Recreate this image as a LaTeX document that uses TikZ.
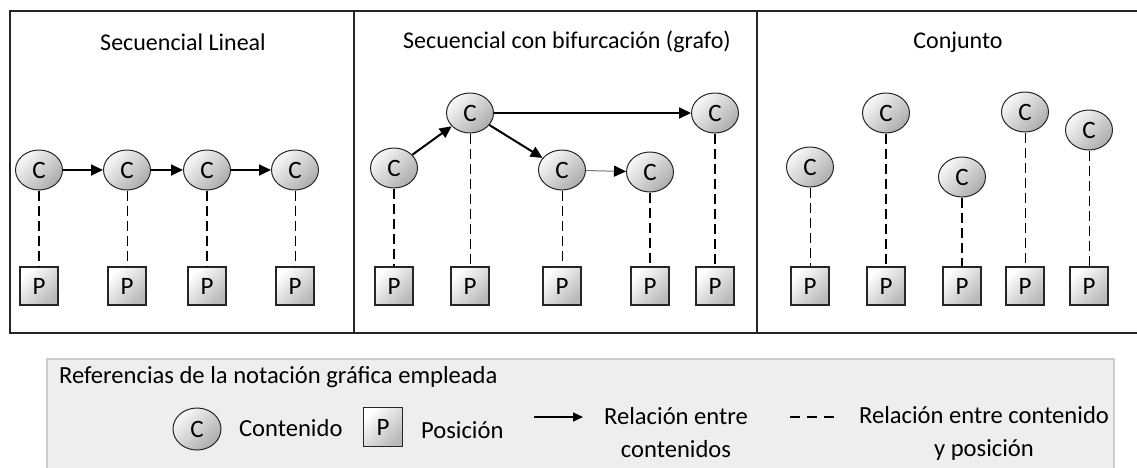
\documentclass[tikz,border=0pt]{standalone}
\usepackage{fontspec}
\setmainfont{Carlito}
\usepackage{tikz}
\usetikzlibrary{arrows,arrows.meta,shapes,shapes.geometric,positioning}

\begin{document}
\begin{tikzpicture}[x=0.5pt,y=-0.5pt,
	contnode/.style={ellipse,draw=black!85,line width=0.5pt,inner sep=0pt,
		minimum width=23.5pt,minimum height=20pt,
		top color=gray!5,bottom color=gray!65,shading angle=45,font=\fontsize{12.5}{14}\selectfont},
	posnode/.style={rectangle,draw=black!85,line width=0.6pt,inner sep=0pt,minimum size=19pt,
		top color=white,bottom color=gray!55,shading angle=45,font=\fontsize{12.5}{14}\selectfont},
	relarrow/.style={line width=1pt,-{Triangle[length=6pt,width=5.5pt,color=black]}},
	linkthick/.style={line width=1pt,dash pattern=on 5pt off 2.5pt},
	linkthin/.style={line width=0.5pt,dash pattern=on 5pt off 2.5pt},
	titletext/.style={font=\fontsize{12}{14}\selectfont},
	reftext/.style={font=\fontsize{12.3}{16.5}\selectfont}]

	\useasboundingbox (0,0) rectangle (1137,467);

	% frame with the three panels
	\draw[line width=1pt,draw=black!85] (10,11) rectangle (1150,333);
	\draw[line width=1pt,draw=black!85] (354,11) -- (354,333);
	\draw[line width=1pt,draw=black!85] (757,11) -- (757,333);

	\node[titletext](lintitle) at (183,42) {Secuencial Lineal};
	\node[titletext](biftitle) at (567,42) {Secuencial con bifurcación (grafo)};
	\node[titletext](conjtitle) at (958,42) {Conjunto};

	% secuencial lineal
	\node[contnode](lincont1) at (39,170) {C};
	\node[contnode](lincont2) at (127,170) {C};
	\node[contnode](lincont3) at (207,170) {C};
	\node[contnode](lincont4) at (295,170) {C};
	\node[posnode](linpos1) at (39,286) {P};
	\node[posnode](linpos2) at (127,286) {P};
	\node[posnode](linpos3) at (207,286) {P};
	\node[posnode](linpos4) at (295,286) {P};

	\draw[relarrow] (lincont1) -- (lincont2);
	\draw[relarrow] (lincont2) -- (lincont3);
	\draw[relarrow] (lincont3) -- (lincont4);

	\draw[linkthick] (lincont1) -- (linpos1);
	\draw[linkthin] (lincont2) -- (linpos2);
	\draw[linkthick] (lincont3) -- (linpos3);
	\draw[linkthin] (lincont4) -- (linpos4);

	% secuencial con bifurcacion
	\node[contnode](bifcont1) at (394,168) {C};
	\node[contnode](bifcont2) at (470,113) {C};
	\node[contnode](bifcont3) at (715,113) {C};
	\node[contnode](bifcont4) at (562,170) {C};
	\node[contnode](bifcont5) at (650,172) {C};
	\node[posnode](bifpos1) at (394,286) {P};
	\node[posnode](bifpos2) at (470,286) {P};
	\node[posnode](bifpos3) at (715,286) {P};
	\node[posnode](bifpos4) at (562,286) {P};
	\node[posnode](bifpos5) at (650,286) {P};

	\draw[relarrow] (bifcont1) -- (bifcont2);
	\draw[relarrow] (bifcont2) -- (bifcont4);
	\draw[relarrow] (bifcont2) -- (bifcont3);
	\draw[relarrow,line width=0.5pt,draw=black!55] (bifcont4) -- (bifcont5);

	\draw[linkthick] (bifcont1) -- (bifpos1);
	\draw[linkthin] (bifcont2) -- (bifpos2);
	\draw[linkthick] (bifcont3) -- (bifpos3);
	\draw[linkthin] (bifcont4) -- (bifpos4);
	\draw[linkthick] (bifcont5) -- (bifpos5);

	% conjunto
	\node[contnode](conjcont1) at (810,167) {C};
	\node[contnode](conjcont2) at (886,113) {C};
	\node[contnode](conjcont3) at (962,177) {C};
	\node[contnode](conjcont4) at (1025,112) {C};
	\node[contnode](conjcont5) at (1089,130) {C};
	\node[posnode](conjpos1) at (810,286) {P};
	\node[posnode](conjpos2) at (886,286) {P};
	\node[posnode](conjpos3) at (962,286) {P};
	\node[posnode](conjpos4) at (1025,286) {P};
	\node[posnode](conjpos5) at (1089,286) {P};

	\draw[linkthin] (conjcont1) -- (conjpos1);
	\draw[linkthick] (conjcont2) -- (conjpos2);
	\draw[linkthick] (conjcont3) -- (conjpos3);
	\draw[linkthin] (conjcont4) -- (conjpos4);
	\draw[linkthin] (conjcont5) -- (conjpos5);

	% referencias
	\draw[draw=gray!40,fill=gray!13,line width=0.6pt] (47,359) rectangle (1114,490);
	\node[anchor=west,reftext](reftitle) at (52,377) {Referencias de la notación gráfica empleada};

	\node[contnode,minimum width=24pt,minimum height=21pt](refcont) at (197,429) {C};
	\node[anchor=west,reftext](refconttext) at (232,428) {Contenido};
	\node[posnode,minimum size=19.5pt](refpos) at (383,427) {P};
	\node[anchor=west,reftext](refpostext) at (414,430) {Posición};

	\coordinate (refarrow1) at (534,417);
	\coordinate (refarrow2) at (583,417);
	\draw[line width=0.7pt,-{Triangle[length=5pt,width=4.5pt]}] (refarrow1) -- (refarrow2);
	\node[align=center,reftext](refarrowtext) at (676,433) {Relación entre\\contenidos};

	\coordinate (refdash1) at (790,417);
	\coordinate (refdash2) at (840,417);
	\draw[line width=0.8pt,dash pattern=on 5pt off 3.5pt] (refdash1) -- (refdash2);
	\node[align=center,reftext](refdashtext) at (984,433) {Relación entre contenido\\y posición};

\end{tikzpicture}
\end{document}
